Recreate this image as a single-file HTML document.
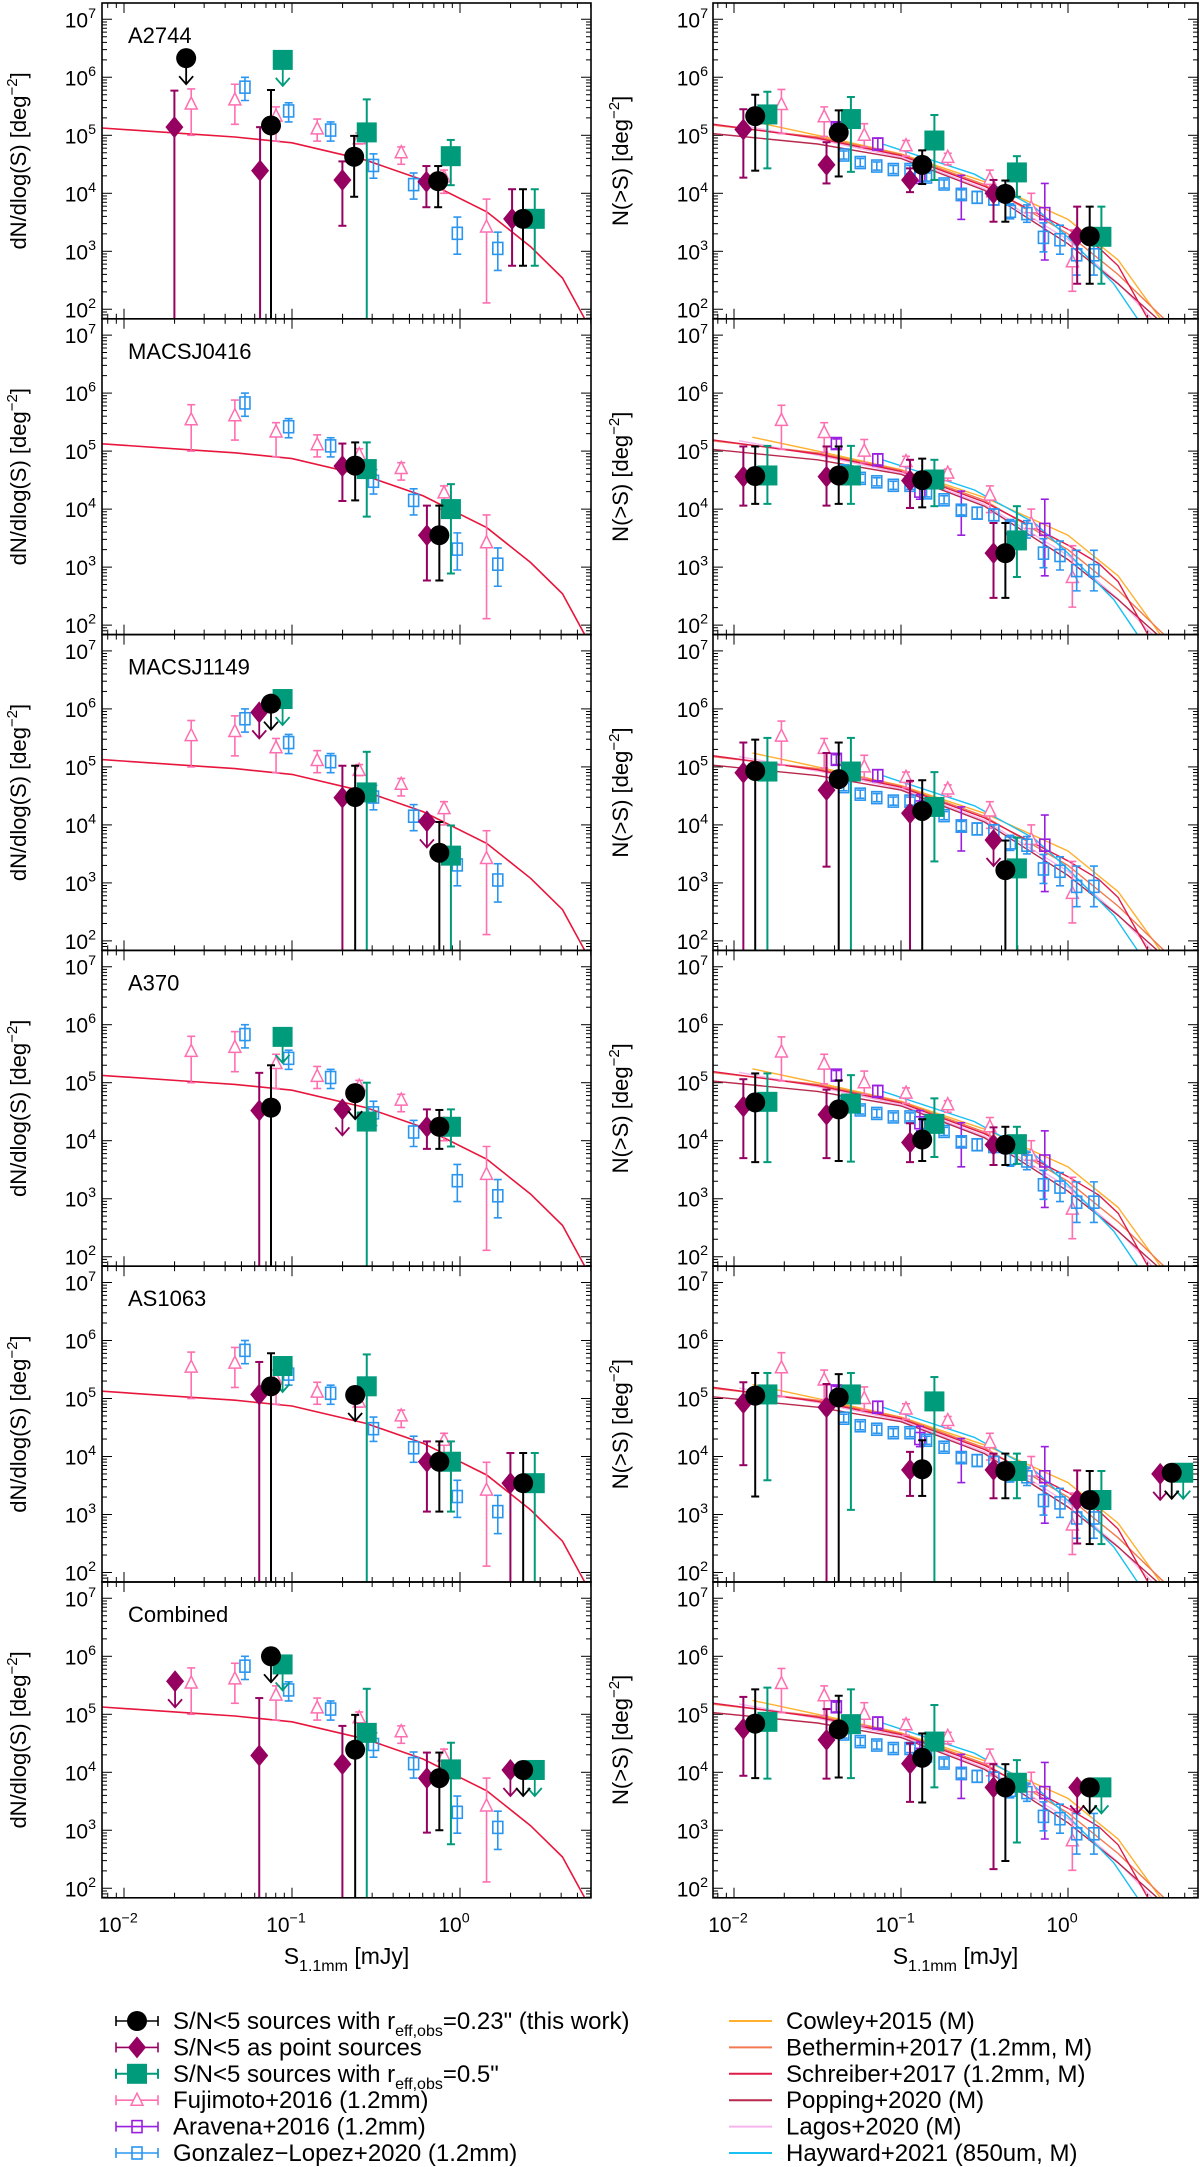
<!DOCTYPE html>
<html><head><meta charset="utf-8"><style>
html,body{margin:0;padding:0;background:#fff;}
svg{display:block;font-family:"Liberation Sans",sans-serif;}
</style></head><body>
<svg id="chart" width="1200" height="2167" viewBox="0 0 1200 2167" xmlns="http://www.w3.org/2000/svg"></svg>
<script>
// ---------- DATA (log10 values: [logS, logN, logHi, logLo]) ----------
const panelNames = ["A2744","MACSJ0416","MACSJ1149","A370","AS1063","Combined"];
const yTickExp = [7,6,5,4,3,2];
const xTickExp = [-2,-1,0];
const fujiL = [[-1.60,5.54,5.80,5.0],[-1.34,5.61,5.88,5.19],[-1.095,5.33,5.49,4.90],[-0.85,5.11,5.28,4.90],[-0.60,4.94,5.04,4.85],[-0.35,4.70,4.80,4.50],[-0.095,4.28,4.40,4.0],[0.158,3.42,3.9,2.11]];
const glL = [[-1.28,5.83,6.0,5.6],[-1.02,5.42,5.56,5.23],[-0.77,5.09,5.23,4.9],[-0.515,4.48,4.68,4.26],[-0.276,4.15,4.35,3.9],[-0.016,3.31,3.59,2.95],[0.225,3.05,3.33,2.67]];
const modelLS = [-2.2,-1.6,-1.34,-1,-0.56,-0.22,0.16,0.42,0.61,0.74,0.85];
const modelLN = [5.14,5.02,4.97,4.87,4.57,4.23,3.68,3.08,2.54,1.85,1.3];
const fujiR = [[-1.716,5.53,5.79,5.03],[-1.46,5.32,5.49,4.98],[-1.22,5.0,5.20,4.80],[-0.97,4.82,4.91,4.64],[-0.72,4.62,4.69,4.49],[-0.468,4.24,4.40,3.94],[-0.22,3.75,4.0,3.55],[0.026,2.82,3.37,2.31]];
const aravR = [[-1.387,5.13,5.21,5.04],[-1.139,4.85,4.95,4.76],[-0.887,4.31,4.52,4.17],[-0.639,3.98,4.31,3.55],[-0.139,3.65,4.17,2.85]];
const glR = [[-1.343,4.66,4.73,4.59],[-1.244,4.53,4.60,4.46],[-1.145,4.47,4.54,4.40],[-1.046,4.41,4.48,4.34],[-0.946,4.41,4.48,4.34],[-0.847,4.28,4.35,4.21],[-0.742,4.16,4.23,4.09],[-0.639,3.98,4.06,3.90],[-0.544,3.93,4.03,3.83],[-0.444,3.90,4.0,3.80],[-0.345,3.69,3.82,3.56],[-0.246,3.65,3.80,3.50],[-0.147,3.24,3.49,2.99],[-0.048,3.20,3.45,2.95],[0.052,2.94,3.29,2.59],[0.155,2.94,3.29,2.59]];
const cowleyS = [-1.89,-1.5,-1,-0.5,0,0.3,0.55,0.7];
const cowleyN = [5.24,5.0,4.68,4.2,3.55,2.85,1.85,1.2];
const bethS = [-2.2,-1.5,-1,-0.5,0,0.3,0.57,0.7];
const bethN = [5.2,4.97,4.67,4.15,3.3,2.6,1.85,1.3];
const schrS = [-2.2,-1.5,-1,-0.5,0,0.185,0.30,0.47,0.6];
const schrN = [5.22,4.95,4.65,4.12,3.38,3.06,2.75,1.88,1.2];
const popS = [-2.2,-1.5,-1,-0.5,0,0.3,0.53,0.65];
const popN = [5.05,4.85,4.6,4.05,3.13,2.44,1.85,1.3];
const lagosS = [-1.97,-1.5,-1,-0.5,0,0.3,0.5,0.65];
const lagosN = [5.18,4.93,4.62,4.08,3.2,2.45,1.85,1.3];
const haywS = [-1.11,-0.56,-0.2,0,0.274,0.413,0.5];
const haywN = [4.85,4.33,3.76,3.24,2.44,1.85,1.4];
const diaL = [
 [[-1.70,5.14,5.77,null],[-1.19,4.39,5.14,null],[-0.70,4.23,4.55,3.44],[-0.20,4.20,4.47,3.76],[0.31,3.56,4.07,2.75]],
 [[-0.70,4.74,5.13,4.14],[-0.197,3.55,4.06,2.77]],
 [[-0.70,4.47,5.02,null]],
 [[-1.195,4.52,5.17,null],[-0.197,4.24,4.54,3.86]],
 [[-1.195,5.07,5.63,null],[-0.197,3.91,4.26,3.05],[0.30,3.54,4.06,null]],
 [[-1.195,4.29,5.28,null],[-0.70,4.14,4.80,null],[-0.197,3.90,4.34,2.96]]];
const diaLUL = [[],[],[[-1.195,5.94],[-0.197,4.06]],[[-0.70,4.54]],[],[[-1.696,5.57],[0.30,4.04]]];
const cirL = [
 [[-1.125,5.17,5.78,null],[-0.63,4.63,4.99,3.94],[-0.13,4.21,4.47,3.76],[0.375,3.56,4.07,2.75]],
 [[-0.624,4.75,5.15,4.15],[-0.123,3.55,4.06,2.77]],
 [[-0.624,4.48,5.02,null],[-0.123,3.52,4.05,null]],
 [[-1.125,4.57,5.30,null],[-0.123,4.24,4.53,3.86]],
 [[-1.125,5.21,5.78,null],[-0.123,3.91,4.26,3.05],[0.376,3.54,4.06,null]],
 [[-0.624,4.39,4.99,null],[-0.123,3.90,4.34,3.0]]];
const cirLUL = [[[-1.63,6.33]],[],[[-1.125,6.09]],[[-0.624,4.82]],[[-0.624,5.06]],[[-1.125,6.0],[0.376,4.04]]];
const sqL = [
 [[-0.555,5.05,5.62,null],[-0.055,4.64,4.92,4.14],[0.445,3.56,4.07,2.75]],
 [[-0.555,4.69,5.15,3.87],[-0.054,4.0,4.43,2.89]],
 [[-0.555,4.56,5.26,null],[-0.054,3.47,3.99,null]],
 [[-0.555,4.33,5.0,null],[-0.054,4.24,4.54,3.90]],
 [[-0.555,5.21,5.76,null],[-0.054,3.91,4.26,3.05],[0.445,3.54,4.06,null]],
 [[-0.555,4.68,5.44,null],[-0.054,4.05,4.51,2.76]]];
const sqLUL = [[[-1.055,6.30]],[],[[-1.056,6.17]],[[-1.056,5.79]],[[-1.056,5.56]],[[-1.056,5.86],[0.445,4.04]]];
const diaR = [
 [[-1.944,5.10,5.45,4.27],[-1.446,4.49,4.88,4.17],[-0.946,4.23,4.43,4.02],[-0.446,4.0,4.23,3.51],[0.055,3.26,3.77,2.44]],
 [[-1.944,4.56,5.08,4.06],[-1.446,4.56,5.08,4.06],[-0.946,4.49,4.85,4.02],[-0.446,3.24,3.76,2.47]],
 [[-1.944,4.90,5.42,null],[-1.446,4.60,5.24,3.28],[-0.946,4.20,4.76,null]],
 [[-1.944,4.59,5.06,3.70],[-1.446,4.45,4.88,3.70],[-0.946,3.97,4.30,3.63],[-0.446,3.93,4.23,3.58]],
 [[-1.944,4.92,5.28,3.85],[-1.446,4.85,5.25,null],[-0.946,3.77,4.08,3.32],[-0.446,3.77,4.05,3.28],[0.055,3.25,3.76,2.50]],
 [[-1.944,4.75,5.30,3.94],[-1.446,4.56,5.09,3.89],[-0.946,4.15,4.50,3.49],[-0.446,3.74,4.14,2.33]]];
const diaRUL = [[],[],[[-0.446,3.74]],[],[[0.552,3.70]],[[0.055,3.74]]];
const cirR = [
 [[-1.873,5.33,5.70,4.39],[-1.373,5.05,5.43,4.29],[-0.873,4.49,4.74,4.16],[-0.375,3.99,4.22,3.51],[0.13,3.26,3.77,2.44]],
 [[-1.873,4.57,5.08,4.09],[-1.373,4.58,5.08,4.09],[-0.873,4.50,4.87,4.03],[-0.375,3.24,3.76,2.47]],
 [[-1.873,4.93,5.47,null],[-1.373,4.79,5.42,null],[-0.873,4.24,4.77,null],[-0.375,3.22,3.73,null]],
 [[-1.873,4.66,5.16,3.63],[-1.373,4.54,5.04,3.65],[-0.873,4.02,4.37,3.65],[-0.375,3.93,4.24,3.58]],
 [[-1.873,5.05,5.44,3.31],[-1.373,5.02,5.42,null],[-0.873,3.78,4.28,3.32],[-0.375,3.75,4.05,3.28],[0.13,3.25,3.75,2.49]],
 [[-1.873,4.84,5.43,3.90],[-1.373,4.74,5.32,3.91],[-0.873,4.25,4.67,3.48],[-0.375,3.74,4.14,2.47]]];
const cirRUL = [[],[],[],[],[[0.621,3.72]],[[0.13,3.74]]];
const sqR = [
 [[-1.80,5.36,5.75,4.43],[-1.30,5.28,5.66,4.37],[-0.80,4.91,5.35,4.23],[-0.306,4.36,4.64,3.94],[0.20,3.25,3.77,2.44]],
 [[-1.80,4.58,5.09,4.09],[-1.30,4.58,5.09,4.09],[-0.80,4.51,4.85,4.05],[-0.306,3.46,4.05,2.83]],
 [[-1.80,4.92,5.50,null],[-1.30,4.92,5.50,null],[-0.80,4.31,4.91,3.37],[-0.306,3.25,3.78,null]],
 [[-1.80,4.67,5.16,3.63],[-1.30,4.64,5.13,3.64],[-0.80,4.29,4.73,3.72],[-0.306,3.94,4.24,3.60]],
 [[-1.80,5.07,5.44,3.59],[-1.30,5.07,5.44,3.08],[-0.80,4.95,5.37,null],[-0.306,3.75,4.05,3.28],[0.20,3.25,3.75,2.49]],
 [[-1.80,4.87,5.46,3.89],[-1.30,4.83,5.43,3.90],[-0.80,4.53,5.16,3.74],[-0.306,3.82,4.21,2.79]]];
const sqRUL = [[],[],[],[],[[0.69,3.72]],[[0.20,3.74]]];

// ---------- LAYOUT ----------
const NS="http://www.w3.org/2000/svg";
const svg=document.getElementById('chart');
const COLS=[{x0:102,x1:591,ax:460,sx:168},{x0:713,x1:1198,ax:1068,sx:167}];
const ROWH=315.8, TOP0=3, YMAX=7.281, YSC=58;
const C={dia:"#960060",cir:"#000000",sq:"#009b7a",fuji:"#ff6fb0",arav:"#9a1ee0",gl:"#2b96f0",modelL:"#e8163c",
 cowley:"#ffb02e",beth:"#f27a50",schr:"#e01a48",pop:"#b8284c",lagos:"#f6b4ec",hayw:"#18c0f4"};
function mk(tag,attrs,parent){const e=document.createElementNS(NS,tag);for(const k in attrs)e.setAttribute(k,attrs[k]);(parent||svg).appendChild(e);return e;}
function xOf(c,ls){return COLS[c].ax+COLS[c].sx*ls;}
function rowTop(r){return TOP0+r*ROWH;}
function yOf(r,ln){return rowTop(r)+(YMAX-ln)*YSC;}
function bot(r){return rowTop(r)+ROWH;}

function errbar(g,x,r,hi,lo,col,w){
  const yb=bot(r);
  const y1=yOf(r,hi), y2=(lo===null)?yb:Math.min(yb,yOf(r,lo));
  mk('line',{x1:x,y1:y1,x2:x,y2:y2,stroke:col,'stroke-width':w},g);
  mk('line',{x1:x-4,y1:y1,x2:x+4,y2:y1,stroke:col,'stroke-width':w},g);
  if(lo!==null && yOf(r,lo)<yb) mk('line',{x1:x-4,y1:y2,x2:x+4,y2:y2,stroke:col,'stroke-width':w},g);
}
function marker(g,type,x,y,col){
  if(type==='cir') mk('circle',{cx:x,cy:y,r:10,fill:col},g);
  else if(type==='sq') mk('rect',{x:x-10,y:y-10,width:20,height:20,fill:col},g);
  else if(type==='dia') mk('polygon',{points:`${x},${y-11} ${x+9},${y} ${x},${y+11} ${x-9},${y}`,fill:col},g);
  else if(type==='tri') mk('polygon',{points:`${x},${y-7} ${x+6},${y+5} ${x-6},${y+5}`,fill:'#fff',stroke:col,'stroke-width':1.5},g);
  else if(type==='osq') mk('rect',{x:x-5,y:y-6,width:10,height:12,fill:'none',stroke:col,'stroke-width':1.6},g);
}
function ulArrow(g,x,y,col){
  mk('line',{x1:x,y1:y,x2:x,y2:y+26,stroke:col,'stroke-width':1.8},g);
  mk('polyline',{points:`${x-7},${y+18} ${x},${y+26} ${x+7},${y+18}`,fill:'none',stroke:col,'stroke-width':1.8},g);
}
function drawSeries(g,c,r,pts,type,col,bw){
  pts.forEach(p=>{const x=xOf(c,p[0]);errbar(g,x,r,p[2],p[3],col,bw);marker(g,type,x,yOf(r,p[1]),col);});
}
function drawUL(g,c,r,pts,type,col){
  pts.forEach(p=>{const x=xOf(c,p[0]),y=yOf(r,p[1]);ulArrow(g,x,y,col);marker(g,type,x,y,col);});
}
function drawCurve(g,c,r,xs,ys,col,w){
  const d=xs.map((v,i)=>(i?'L':'M')+xOf(c,v).toFixed(1)+','+yOf(r,ys[i]).toFixed(1)).join(' ');
  mk('path',{d:d,fill:'none',stroke:col,'stroke-width':w},g);
}
function supText(parent,x,y,base,exp,size,anchor){
  const t=mk('text',{x:x,y:y,'font-size':size,'text-anchor':anchor,fill:'#000'},parent);
  const a=document.createElementNS(NS,'tspan');a.textContent=base;t.appendChild(a);
  const b=document.createElementNS(NS,'tspan');b.setAttribute('dy',-size*0.45);b.setAttribute('font-size',size*0.68);b.textContent=exp;t.appendChild(b);
  return t;
}

const defs=mk('defs',{});
for(let r=0;r<6;r++){
  for(let c=0;c<2;c++){
    const P=COLS[c], yt=rowTop(r), yb=bot(r);
    const cp=mk('clipPath',{id:`clip${r}${c}`},defs);
    mk('rect',{x:P.x0,y:yt,width:P.x1-P.x0,height:ROWH},cp);
    const g=mk('g',{'clip-path':`url(#clip${r}${c})`});
    
    
    const tg=mk('g',{stroke:'#000','stroke-width':1},g);
    for(let e=-3;e<=1;e++)for(let m=1;m<10;m++){
      const x=xOf(c,e+Math.log10(m)); if(x<P.x0||x>P.x1)continue;
      const L=m===1?10:5;
      mk('line',{x1:x,y1:yb,x2:x,y2:yb-L},tg);mk('line',{x1:x,y1:yt,x2:x,y2:yt+L},tg);
    }
    for(let e=1;e<=7;e++)for(let m=1;m<10;m++){
      const y=yOf(r,e+Math.log10(m)); if(y<yt||y>yb)continue;
      const L=m===1?10:5;
      mk('line',{x1:P.x0,y1:y,x2:P.x0+L,y2:y},tg);mk('line',{x1:P.x1,y1:y,x2:P.x1-L,y2:y},tg);
    }
    if(c===0){
      drawCurve(g,c,r,modelLS,modelLN,C.modelL,1.6);
      drawSeries(g,c,r,fujiL,'tri',C.fuji,1.6);
      drawSeries(g,c,r,glL,'osq',C.gl,1.6);
      drawSeries(g,c,r,diaL[r],'dia',C.dia,2);drawUL(g,c,r,diaLUL[r],'dia',C.dia);
      drawSeries(g,c,r,sqL[r],'sq',C.sq,2);drawUL(g,c,r,sqLUL[r],'sq',C.sq);
      drawSeries(g,c,r,cirL[r],'cir',C.cir,2);drawUL(g,c,r,cirLUL[r],'cir',C.cir);
    } else {
      drawCurve(g,c,r,cowleyS,cowleyN,C.cowley,1.4);
      drawCurve(g,c,r,bethS,bethN,C.beth,1.4);
      drawCurve(g,c,r,lagosS,lagosN,C.lagos,1.4);
      drawCurve(g,c,r,popS,popN,C.pop,1.4);
      drawCurve(g,c,r,schrS,schrN,C.schr,1.4);
      drawCurve(g,c,r,haywS,haywN,C.hayw,1.4);
      drawSeries(g,c,r,fujiR,'tri',C.fuji,1.6);
      drawSeries(g,c,r,aravR,'osq',C.arav,1.6);
      drawSeries(g,c,r,glR,'osq',C.gl,1.6);
      drawSeries(g,c,r,diaR[r],'dia',C.dia,2);drawUL(g,c,r,diaRUL[r],'dia',C.dia);
      drawSeries(g,c,r,sqR[r],'sq',C.sq,2);drawUL(g,c,r,sqRUL[r],'sq',C.sq);
      drawSeries(g,c,r,cirR[r],'cir',C.cir,2);drawUL(g,c,r,cirRUL[r],'cir',C.cir);
    }
    const fr=mk('rect',{x:P.x0,y:yt,width:P.x1-P.x0,height:ROWH,fill:'none',stroke:'#000','stroke-width':1.6});
    
    
    yTickExp.forEach(e=>{
      const t=supText(svg,c?708:96,yOf(r,e)+8,'10',String(e),21,'end');
      
      
    });
    const yc=yt+ROWH/2, xt=c?628:26;
    const tt=mk('text',{x:xt,y:yc,'font-size':22,'text-anchor':'middle',transform:`rotate(-90 ${xt} ${yc})`});
    
    
    const s1=document.createElementNS(NS,'tspan');s1.textContent=c?'N(>S) [deg':'dN/dlog(S) [deg';tt.appendChild(s1);
    const s2=document.createElementNS(NS,'tspan');s2.setAttribute('dy',-9);s2.setAttribute('font-size',15);s2.textContent='\u22122';tt.appendChild(s2);
    const s3=document.createElementNS(NS,'tspan');s3.setAttribute('dy',9);s3.textContent=']';tt.appendChild(s3);
    if(c===0){
      const pl=mk('text',{x:128,y:yt+40,'font-size':22});pl.textContent=panelNames[r];
      
      
    }
  }
}
for(let c=0;c<2;c++){
  xTickExp.forEach(e=>{
    const t=supText(svg,xOf(c,e)-6,1932,'10',(e<0?'\u2212'+(-e):String(e)),21,'middle');
    
    
  });
  const cx=(COLS[c].x0+COLS[c].x1)/2;
  const t=mk('text',{x:cx,y:1964,'font-size':23,'text-anchor':'middle'});
  
  
  const a=document.createElementNS(NS,'tspan');a.textContent='S';t.appendChild(a);
  const b=document.createElementNS(NS,'tspan');b.setAttribute('dy',7);b.setAttribute('font-size',16);b.textContent='1.1mm';t.appendChild(b);
  const d=document.createElementNS(NS,'tspan');d.setAttribute('dy',-7);d.textContent=' [mJy]';t.appendChild(d);
}
const legL=[['cir',C.cir,'S/N<5 sources with r','eff,obs','=0.23" (this work)'],['dia',C.dia,'S/N<5 as point sources','',''],
 ['sq',C.sq,'S/N<5 sources with r','eff,obs','=0.5"'],['tri',C.fuji,'Fujimoto+2016 (1.2mm)','',''],
 ['osq',C.arav,'Aravena+2016 (1.2mm)','',''],['osq',C.gl,'Gonzalez\u2212Lopez+2020 (1.2mm)','','']];
const legR=[[C.cowley,'Cowley+2015 (M)'],[C.beth,'Bethermin+2017 (1.2mm, M)'],[C.schr,'Schreiber+2017 (1.2mm, M)'],
 [C.pop,'Popping+2020 (M)'],[C.lagos,'Lagos+2020 (M)'],[C.hayw,'Hayward+2021 (850um, M)']];
legL.forEach((it,i)=>{
  const y=2021+i*26.4;
  const g=mk('g',{});
  
  
  const w=it[0].length>2?1.6:2;
  mk('line',{x1:116,y1:y,x2:158,y2:y,stroke:it[1],'stroke-width':w},g);
  mk('line',{x1:116,y1:y-5,x2:116,y2:y+5,stroke:it[1],'stroke-width':w},g);
  mk('line',{x1:158,y1:y-5,x2:158,y2:y+5,stroke:it[1],'stroke-width':w},g);
  marker(g,it[0],137,y,it[1]);
  const t=mk('text',{x:173,y:y+8,'font-size':24},g);
  const a=document.createElementNS(NS,'tspan');a.textContent=it[2];t.appendChild(a);
  if(it[3]){const b=document.createElementNS(NS,'tspan');b.setAttribute('dy',7);b.setAttribute('font-size',16);b.textContent=it[3];t.appendChild(b);
    const d=document.createElementNS(NS,'tspan');d.setAttribute('dy',-7);d.textContent=it[4];t.appendChild(d);}
});
legR.forEach((it,i)=>{
  const y=2021+i*26.4;
  const g=mk('g',{});
  
  
  mk('line',{x1:729,y1:y,x2:772,y2:y,stroke:it[0],'stroke-width':2},g);
  const t=mk('text',{x:786,y:y+8,'font-size':24},g);t.textContent=it[1];
});
</script>
</body></html>
